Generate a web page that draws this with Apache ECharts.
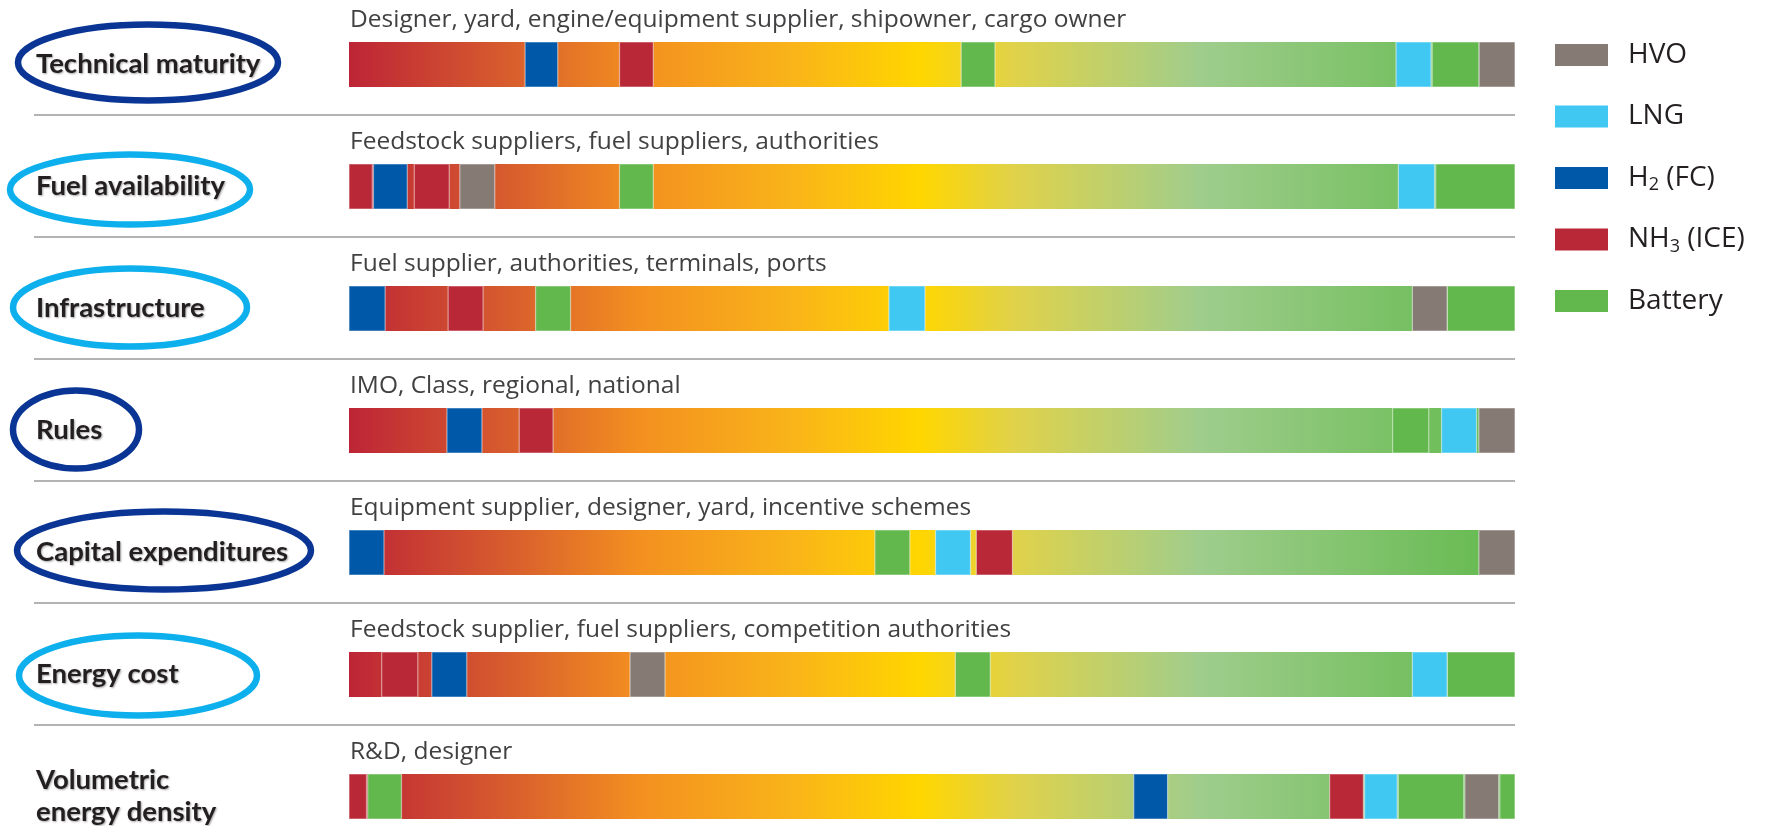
<!DOCTYPE html>
<html>
<head>
<meta charset="utf-8">
<script src="https://cdn.jsdelivr.net/npm/echarts@6/dist/echarts.min.js"></script>
<style>
  html, body { margin: 0; padding: 0; background: #fff; }
  #chart { width: 1766px; height: 826px; }
</style>
</head>
<body>
<div id="chart"></div>
<script>
// rows, top to bottom
const labels = ["Technical maturity", "Fuel availability", "Infrastructure", "Rules", "Capital expenditures", "Energy cost", "Volumetric\nenergy density"];
const subtitles = [
  "Designer, yard, engine/equipment supplier, shipowner, cargo owner",
  "Feedstock suppliers, fuel suppliers, authorities",
  "Fuel supplier, authorities, terminals, ports",
  "IMO, Class, regional, national",
  "Equipment supplier, designer, yard, incentive schemes",
  "Feedstock supplier, fuel suppliers, competition authorities",
  "R&D, designer"
];
// ring colour round each row label (null = none)
const rings = ["#0a3594", "#0db0ec", "#0db0ec", "#0a3594", "#0a3594", "#0db0ec", null];

// fuel blocks: [row, start %, end %] along the readiness bar
const hvo = [[0, 96.9, 100], [1, 9.5, 12.5], [2, 91.2, 94.2], [3, 96.9, 100], [4, 96.9, 100], [5, 24.1, 27.1], [6, 95.7, 98.6]];
const lng = [[0, 89.8, 92.8], [1, 90.0, 93.1], [2, 46.3, 49.4], [3, 93.7, 96.7], [4, 50.3, 53.3], [5, 91.2, 94.2], [6, 87.1, 89.9]];
const h2 = [[0, 15.1, 17.9], [1, 2.1, 5.0], [2, 0, 3.1], [3, 8.4, 11.4], [4, 0, 3.0], [5, 7.1, 10.1], [6, 67.3, 70.2]];
const nh3 = [[0, 23.2, 26.1], [1, 0, 2.0], [1, 5.6, 8.6], [2, 8.5, 11.5], [3, 14.6, 17.5], [4, 53.8, 56.9], [5, 2.8, 5.9], [6, 0, 1.5], [6, 84.1, 87.0]];
const battery = [[0, 52.5, 55.4], [0, 92.9, 96.9], [1, 23.2, 26.1], [1, 93.2, 100], [2, 16.0, 19.0], [2, 94.2, 100], [3, 89.5, 92.6], [4, 45.1, 48.1], [5, 52.0, 55.0], [5, 94.2, 100], [6, 1.6, 4.5], [6, 90.0, 95.6], [6, 98.7, 100]];

const fuels = [
  { name: "HVO", color: "#867a74", data: hvo },
  { name: "LNG", color: "#41c8f2", data: lng },
  { name: "H2 (FC)", color: "#0059a8", data: h2 },
  { name: "NH3 (ICE)", color: "#b92837", data: nh3 },
  { name: "Battery", color: "#62b84c", data: battery },
];

// ring sizes round the labels (layout only)
const ringShape = [
  { cx: 148, rx: 130, ry: 38, dy: -2 },
  { cx: 130, rx: 120, ry: 35, dy: 3 },
  { cx: 130, rx: 117, ry: 39, dy: -1 },
  { cx: 76, rx: 63, ry: 39, dy: -1 },
  { cx: 164, rx: 147, ry: 39, dy: -2 },
  { cx: 138, rx: 119, ry: 40, dy: 1 },
  null,
];

const chart = echarts.init(document.getElementById("chart"));
const BAR = 45 / 122;

const gradient = () => new echarts.graphic.LinearGradient(0, 0, 1, 0, [
  { offset: 0, color: "#bd2536" },
  { offset: 0.13, color: "#d65a2e" },
  { offset: 0.25, color: "#f39020" },
  { offset: 0.38, color: "#f9b419" },
  { offset: 0.49, color: "#ffd600" },
  { offset: 0.57, color: "#e0d24a" },
  { offset: 0.73, color: "#9fcd8c" },
  { offset: 1, color: "#62b94d" },
]);

function renderTrack(params, api) {
  const row = api.value(0);
  const s = api.coord([api.value(1), row]);
  const e = api.coord([api.value(2), row]);
  const h = api.size([0, 1])[1] * BAR;
  const children = [
    { type: "rect", shape: { x: s[0], y: s[1] - h / 2, width: e[0] - s[0], height: h }, style: { fill: gradient() } },
    { type: "text", x: s[0] + 1, y: s[1] - 44.5, style: { text: subtitles[row], fontFamily: "Open Sans", fontSize: 24.5, fill: "#414042", verticalAlign: "middle" } },
  ];
  if (row < labels.length - 1) {
    children.push({ type: "line", shape: { x1: s[0] - 315, y1: s[1] + 50.5, x2: e[0], y2: s[1] + 50.5 }, style: { stroke: "#b3b3b3", lineWidth: 2 } });
  }
  return { type: "group", children };
}

function renderBlock(params, api) {
  const row = api.value(0);
  const s = api.coord([api.value(1), row]);
  const e = api.coord([api.value(2), row]);
  const h = api.size([0, 1])[1] * BAR;
  return {
    type: "rect",
    shape: { x: s[0], y: s[1] - h / 2, width: e[0] - s[0], height: h },
    style: { fill: api.visual("color"), stroke: "rgba(255,255,255,0.5)", lineWidth: 1.2 },
  };
}

chart.setOption({
  animation: false,
  backgroundColor: "#fff",
  grid: { left: 349, width: 1166, top: 3.5, height: 854, outerBoundsMode: "none", containLabel: false },
  xAxis: { type: "value", min: 0, max: 100, show: false },
  yAxis: {
    type: "category",
    inverse: true,
    data: labels,
    axisLine: { show: false },
    axisTick: { show: false },
    splitLine: { show: false },
    axisLabel: {
      align: "left",
      margin: 313,
      fontFamily: "Lato",
      fontWeight: "bold",
      fontSize: 27.5,
      lineHeight: 32,
      color: "#231f20",
      textShadowColor: "rgba(0,0,0,0.35)",
      textShadowBlur: 2,
      textShadowOffsetX: 1,
      textShadowOffsetY: 1,
    },
  },
  legend: {
    orient: "vertical",
    left: 1550,
    top: 34,
    icon: "rect",
    itemWidth: 53,
    itemHeight: 22,
    itemGap: 29.5,
    selectedMode: false,
    data: fuels.map(f => f.name),
    itemStyle: { borderWidth: 0 },
    formatter: name => name.replace(/H(\d)/, "H{sub|$1}"),
    textStyle: {
      fontFamily: "Open Sans",
      fontSize: 28,
      color: "#231f20",
      lineHeight: 32,
      padding: [0, 0, 0, 15],
      rich: { sub: { fontFamily: "Open Sans", fontSize: 18, color: "#231f20", lineHeight: 2, verticalAlign: "bottom" } },
    },
  },
  series: [
    {
      type: "custom",
      z: 1,
      data: labels.map((_, i) => [i, 0, 100]),
      encode: { x: [1, 2], y: 0 },
      renderItem: renderTrack,
      silent: true,
    },
    ...fuels.map(f => ({
      type: "custom",
      name: f.name,
      z: 2,
      color: f.color,
      itemStyle: { color: f.color },
      data: f.data,
      encode: { x: [1, 2], y: 0 },
      renderItem: renderBlock,
    })),
  ],
});

chart.setOption({
  graphic: rings.map((color, i) => color && {
    type: "ellipse",
    shape: { cx: ringShape[i].cx, cy: chart.convertToPixel({ yAxisIndex: 0 }, labels[i]) + ringShape[i].dy, rx: ringShape[i].rx, ry: ringShape[i].ry },
    style: { fill: "none", stroke: color, lineWidth: 6.5 },
    silent: true,
  }).filter(Boolean),
});
</script>
</body>
</html>
